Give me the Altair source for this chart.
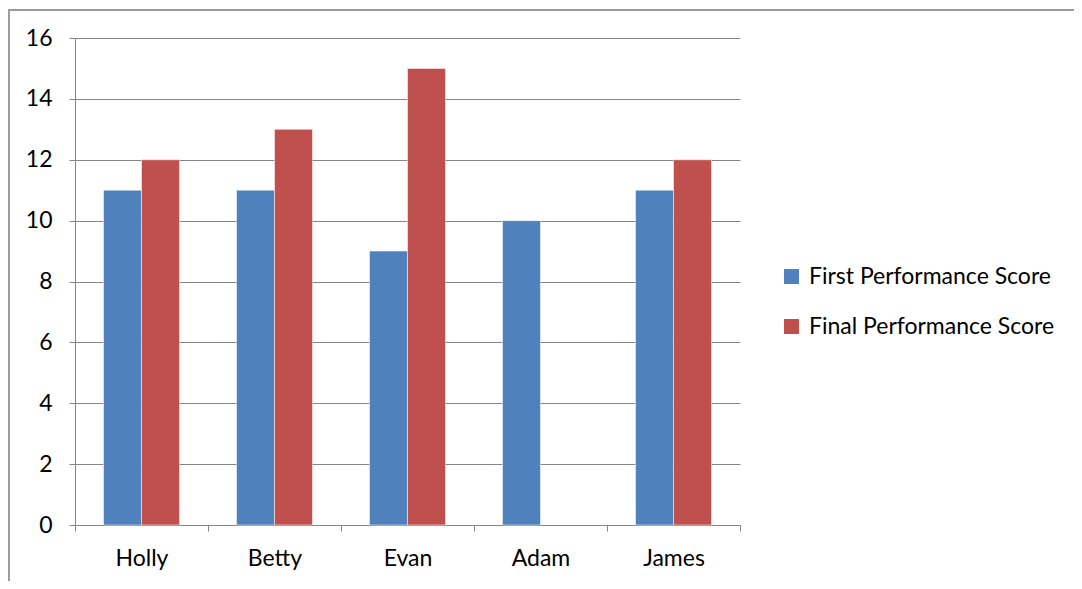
import altair as alt
import pandas as pd

names = ["Holly", "Betty", "Evan", "Adam", "James"]
first_scores = [11, 11, 9, 10, 11]
final_scores = [12, 13, 15, None, 12]
series = ["First Performance Score", "Final Performance Score"]
colors = ["#4F81BD", "#C0504D"]

rows = []
for n, a, b in zip(names, first_scores, final_scores):
    rows.append({"name": n, "series": series[0], "score": a})
    if b is not None:
        rows.append({"name": n, "series": series[1], "score": b})
df = pd.DataFrame(rows)

FONT = "Lato"
FS = 23
GRAY = "#868686"

bars = alt.Chart(df).mark_bar(stroke="white", strokeOpacity=0.5, strokeWidth=1).encode(
    x=alt.X("name:N", sort=names, title=None,
            scale=alt.Scale(paddingInner=0, paddingOuter=0),
            axis=alt.Axis(labelAngle=0, tickBand="extent", tickSize=6, tickColor=GRAY,
                          domainColor=GRAY, labelFontSize=FS, labelFont=FONT,
                          labelColor="black", labelPadding=16, grid=False)),
    xOffset=alt.XOffset("series:N", sort=series,
                        scale=alt.Scale(paddingInner=0, paddingOuter=0.75)),
    y=alt.Y("score:Q", title=None,
            scale=alt.Scale(domain=[0, 16]),
            axis=alt.Axis(values=list(range(0, 17, 2)), tickSize=6, tickColor=GRAY,
                          domainColor=GRAY, gridColor=GRAY, gridWidth=1,
                          labelFontSize=FS, labelFont=FONT, labelColor="black",
                          labelPadding=17)),
    color=alt.Color("series:N", sort=series,
                    scale=alt.Scale(domain=series, range=colors),
                    legend=alt.Legend(title=None, orient="none", legendX=705, legendY=227,
                                      symbolType="square", symbolSize=225,
                                      symbolStrokeWidth=0, labelLimit=0,
                                      labelFontSize=FS, labelFont=FONT, labelColor="black",
                                      labelOffset=6, rowPadding=26)),
)

frame_left = alt.Chart(df).mark_rule(color="#9a9a9a", strokeWidth=1.5, clip=False).encode(
    x=alt.value(-66.5), y=alt.value(-28), y2=alt.value(600))
frame_top = alt.Chart(df).mark_rule(color="#9a9a9a", strokeWidth=1.5, clip=False).encode(
    x=alt.value(-66.5), x2=alt.value(1000), y=alt.value(-28))

chart = alt.layer(frame_left, frame_top, bars).properties(
    width=665, height=487,
    autosize=alt.AutoSizeParams(type="none"),
    padding={"left": 67, "top": 30, "right": 334, "bottom": 56},
).configure_view(stroke=None)

chart.save("out.html", embed_options={"renderer": "svg", "actions": False})
